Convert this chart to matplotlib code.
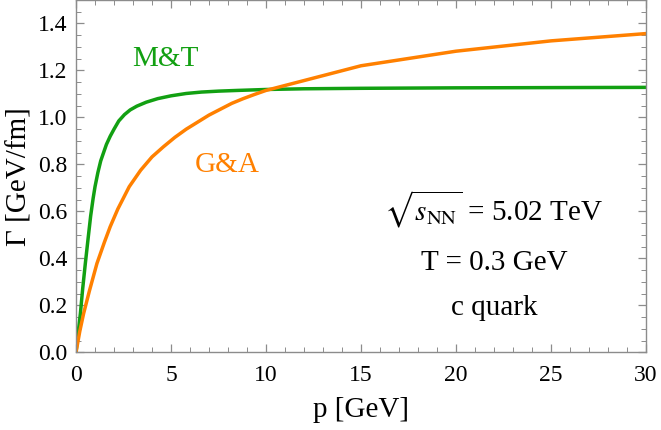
import numpy as np
import matplotlib
matplotlib.use("Agg")
import matplotlib.pyplot as plt
from matplotlib.ticker import MultipleLocator

plt.rcParams["font.family"] = ["Liberation Serif", "DejaVu Serif"]
plt.rcParams["mathtext.fontset"] = "stix"

# Drag coefficient Gamma(p), c quark, T = 0.3 GeV
p_mt = [0, 0.1, 0.23, 0.35, 0.49, 0.63, 0.77, 0.9, 1.0, 1.15, 1.3, 1.45,
        1.6, 1.8, 2.0, 2.25, 2.55, 2.85, 3.2, 3.7, 4.3, 5.0, 5.8, 6.6, 7.5,
        8.5, 10, 12, 15, 20, 25, 30]
gamma_mt = [0, 0.075, 0.165, 0.27, 0.378, 0.48, 0.58, 0.655, 0.705, 0.765,
            0.815, 0.85, 0.885, 0.92, 0.95, 0.985, 1.012, 1.032, 1.048,
            1.065, 1.08, 1.092, 1.102, 1.108, 1.112, 1.115, 1.119, 1.122,
            1.124, 1.126, 1.127, 1.128]

p_ga = [0, 0.2, 0.4, 0.7, 1.1, 1.5, 1.8, 2.2, 2.8, 3.4, 4.0, 4.6, 5.2, 5.8,
        6.4, 7.0, 7.6, 8.2, 8.8, 9.4, 10, 15, 20, 25, 30]
gamma_ga = [0, 0.09, 0.165, 0.26, 0.378, 0.47, 0.535, 0.61, 0.705, 0.775,
            0.832, 0.875, 0.915, 0.95, 0.98, 1.01, 1.035, 1.06, 1.08, 1.098,
            1.115, 1.22, 1.282, 1.326, 1.357]

GREEN = "#12a012"
ORANGE = "#ff8000"
FRAME = "#8c8c8c"

fig = plt.figure(figsize=(6.61, 4.30), dpi=100)
ax = fig.add_axes([0.115, 0.1807, 0.8623, 0.8193])

ax.plot(p_mt, gamma_mt, color=GREEN, lw=2.5, solid_joinstyle="round")
ax.plot(p_ga, gamma_ga, color=ORANGE, lw=2.5, solid_joinstyle="round")

ax.set_xlim(0, 30)
ax.set_ylim(0, 1.5)
ax.xaxis.set_major_locator(MultipleLocator(5))
ax.xaxis.set_minor_locator(MultipleLocator(1))
ax.yaxis.set_major_locator(MultipleLocator(0.2))
ax.yaxis.set_minor_locator(MultipleLocator(0.05))
ax.yaxis.set_major_formatter(plt.FuncFormatter(lambda v, _: f"{v:.1f}"))

for s in ax.spines.values():
    s.set_color(FRAME)
    s.set_linewidth(1.0)
ax.tick_params(which="both", direction="in", top=True, right=True,
               color=FRAME, labelsize=17, labelcolor="black")
ax.tick_params(which="major", length=6, width=0.9)
ax.tick_params(axis="x", which="major", pad=9)
ax.tick_params(axis="y", which="major", pad=6)
ax.tick_params(which="minor", length=3.5, width=0.7)

ax.set_xlabel("p [GeV]", fontsize=21, labelpad=8)
ax.set_ylabel("Γ [GeV/fm]", fontsize=21, labelpad=4)

ax.text(4.7, 1.247, "M&T", color=GREEN, fontsize=21, ha="center", va="center")
ax.text(7.98, 0.797, "G&A", color=ORANGE, fontsize=21, ha="center", va="center")

ax.text(22.0, 0.56, r"$\sqrt{s_{\rm NN}}$ = 5.02 TeV", fontsize=21,
        ha="center", va="baseline")
ax.text(22.0, 0.35, "T = 0.3 GeV", fontsize=21, ha="center", va="baseline")
ax.text(22.0, 0.157, "c quark", fontsize=21, ha="center", va="baseline")

fig.savefig("out.png", dpi=100)
